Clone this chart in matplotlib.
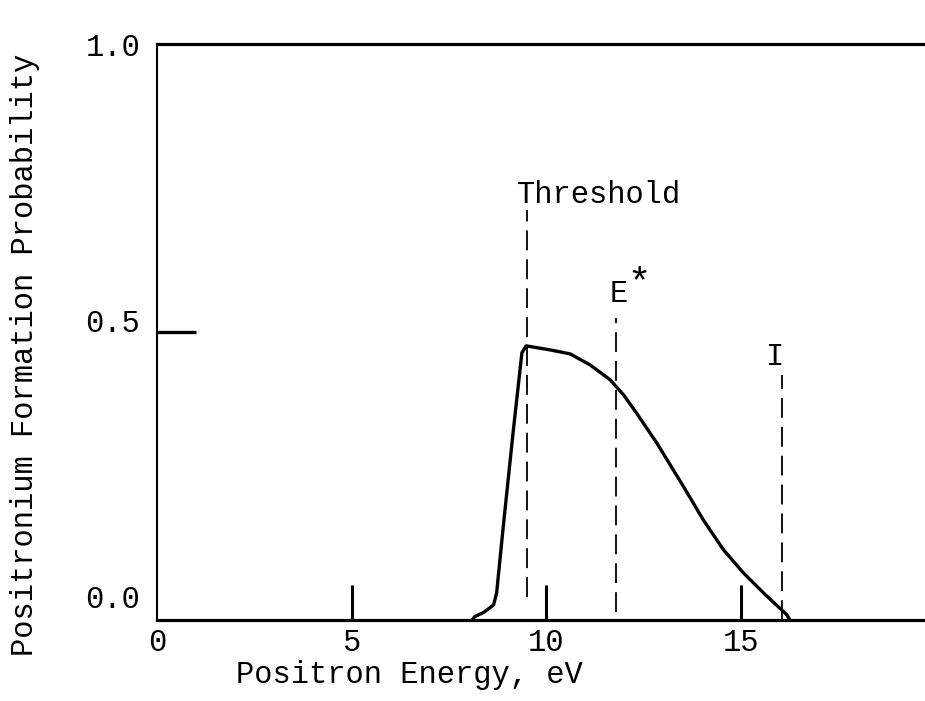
import numpy as np
import matplotlib
matplotlib.use('Agg')
import matplotlib.pyplot as plt
import matplotlib.transforms as mtransforms

plt.rcParams['font.family'] = ['Liberation Mono', 'DejaVu Sans Mono']
plt.rcParams['font.size'] = 22

# values
energy = [8.10, 8.17, 8.39, 8.65, 8.73, 8.90, 9.16, 9.38, 9.49, 10.10, 10.62,
          11.13, 11.65, 11.99, 12.33, 12.85, 13.53, 14.04, 14.56, 15.07,
          15.59, 16.19, 16.27]
prob = [0.0, 0.006, 0.013, 0.026, 0.047, 0.162, 0.330, 0.464, 0.476, 0.469,
        0.462, 0.443, 0.417, 0.391, 0.359, 0.307, 0.232, 0.174, 0.122, 0.082,
        0.047, 0.009, 0.0]

markers = ['Threshold', 'E', 'I']
marker_x = [9.51, 11.80, 16.07]
marker_lo = [0.04, 0.014, 0.0]
marker_hi = [0.712, 0.524, 0.425]

xticks = [0, 5, 10, 15]
yticks = [0.0, 0.5, 1.0]
ytick_labels = ['0.0', '0.5', '1.0']


def plot():
    fig = plt.figure(figsize=(9.25, 7.01), dpi=100)
    ax = fig.add_axes([0.1697, 0.1155, 0.8303, 0.8217])

    ax.plot(energy, prob, color='black', lw=2.4, solid_capstyle='round',
            solid_joinstyle='round')

    for x, lo, hi in zip(marker_x, marker_lo, marker_hi):
        ax.plot([x, x], [lo, hi], color='black', lw=1.3,
                linestyle=(0, (11, 5)))

    ax.text(11.86, 0.566, 'E', ha='center', va='center')
    ax.text(11.36, 0.738, 'Threshold', ha='center', va='center')
    # asterisk as a separate, slightly raised glyph
    ax.text(12.1, 0.554, '*', ha='left', va='bottom', fontsize=28)
    ax.text(15.89, 0.457, 'I', ha='center', va='center')

    ax.set_xlim(0, 19.74)
    ax.set_ylim(0, 1.0)

    ax.spines['right'].set_visible(False)
    ax.spines['top'].set_linewidth(2.3)
    ax.spines['bottom'].set_linewidth(2.3)
    ax.spines['left'].set_linewidth(1.5)

    ax.set_xticks(xticks)
    ax.set_yticks(yticks)
    ax.set_yticklabels(ytick_labels)
    ax.tick_params(axis='x', direction='in', length=25, width=2.2, pad=6)
    ax.tick_params(axis='y', direction='in', length=28, width=2.4, pad=12)

    # no tick marks where they would sit on the frame itself
    ax.xaxis.get_major_ticks()[0].tick1line.set_visible(False)
    ax.yaxis.get_major_ticks()[0].tick1line.set_visible(False)
    ax.yaxis.get_major_ticks()[2].tick1line.set_visible(False)

    # the typed labels sit a little above their ticks
    for lab, dy in zip(ax.get_yticklabels(), [24, 12, 0]):
        off = mtransforms.ScaledTranslation(0, dy / 100.0, fig.dpi_scale_trans)
        lab.set_transform(lab.get_transform() + off)

    ax.set_xlabel('Positron Energy, eV')
    ax.xaxis.set_label_coords(0.329, -0.069)
    ax.set_ylabel('Positronium Formation Probability')
    ax.yaxis.set_label_coords(-0.152, 0.46)

    fig.savefig('out.png', dpi=100)

plot()
